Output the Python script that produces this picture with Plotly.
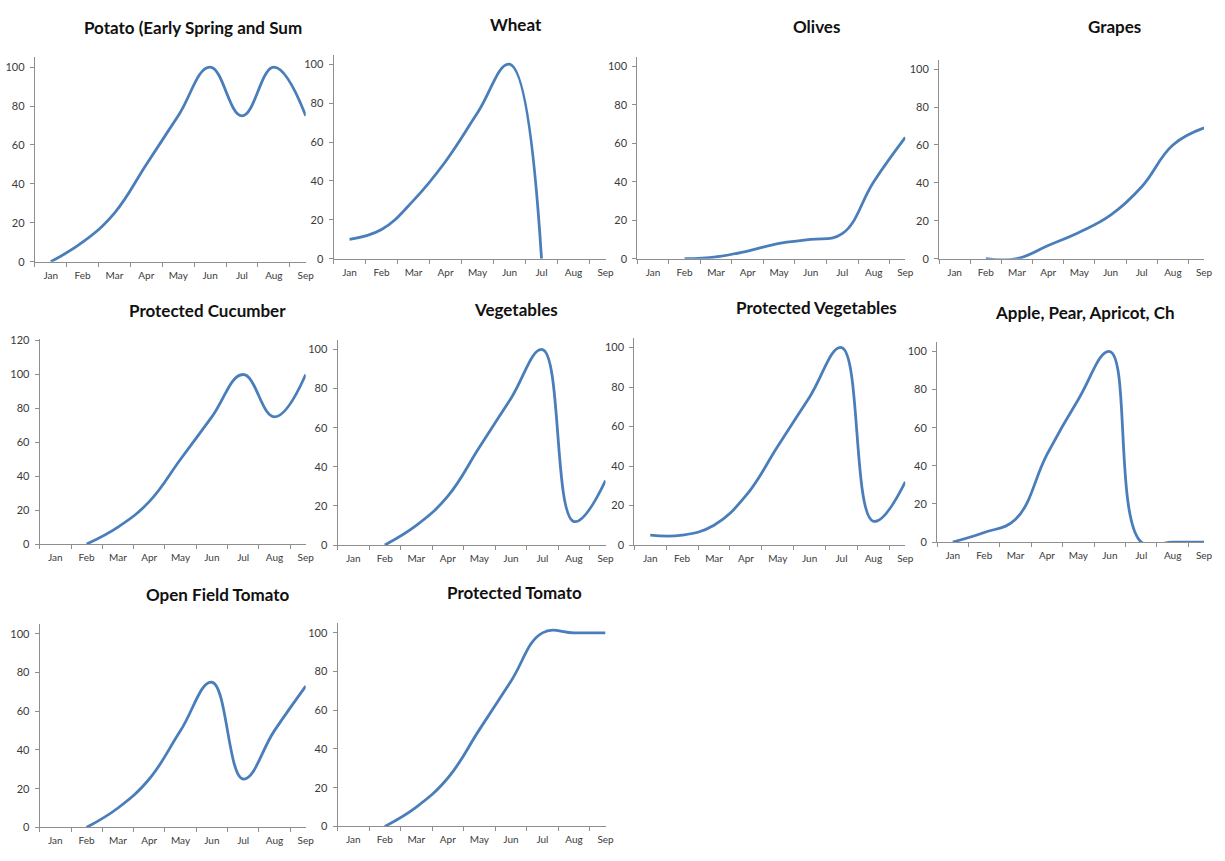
import plotly.graph_objects as go

# ---------------- data ----------------
months = ["Jan", "Feb", "Mar", "Apr", "May", "Jun", "Jul", "Aug", "Sep"]

potato = [0, 10, 25, 50, 75, 100, 75, 100, 75]
wheat = [10, 15, 30, 50, 75, 100, 0, None, None]
olives = [None, 0, 1, 4, 8, 10, 13, 40, 63]
grapes = [None, 0, 0, 7, 14, 23, 38, 60, 69]
protected_cucumber = [None, 0, 10, 25, 50, 75, 100, 75, 100]
vegetables = [None, 0, 10, 25, 50, 75, 100, 12, 33]
protected_vegetables = [5, 5, 10, 25, 50, 75, 100, 12, 32]
apple_pear = [0, 5, 12, 46, 75, 100, 0, 0, 0]
open_field_tomato = [None, 0, 10, 25, 50, 75, 25, 50, 73]
protected_tomato = [None, 0, 10, 25, 50, 75, 100, 100, 100]

titles = [
    "Potato (Early Spring and Sum",
    "Wheat",
    "Olives",
    "Grapes",
    "Protected Cucumber",
    "Vegetables",
    "Protected Vegetables",
    "Apple, Pear, Apricot, Ch",
    "Open Field Tomato",
    "Protected Tomato",
]
series = [potato, wheat, olives, grapes, protected_cucumber, vegetables,
          protected_vegetables, apple_pear, open_field_tomato, protected_tomato]

# ---------------- layout (pixel geometry of the reference) ----------------
W, H = 1225, 861
# (x_left, x_right, y_px_of_0, y_px_of_100, axis_max)
boxes = [
    (35, 308, 260, 63, 105),
    (336, 610, 257, 60, 105),
    (642, 912, 257, 62, 105),
    (946, 1213, 257, 65, 105),
    (40, 308, 546, 374.3, 121),
    (340, 610, 547, 349, 105),
    (639, 912, 547, 347, 105),
    (944, 1213, 544, 351, 105),
    (40, 308, 833, 637, 105),
    (340, 610, 832, 636, 105),
]
# (x, y, xanchor)
title_pos = [
    (83, 23, "left"),
    (520, 20, "center"),
    (823, 22, "center"),
    (1123, 22, "center"),
    (128, 309, "left"),
    (520, 308, "center"),
    (823, 306, "center"),
    (1000, 311, "left"),
    (219, 597, "center"),
    (518, 595, "center"),
]

LINE = "#4A7EBB"
AXIS = "#8E8E8E"
TXT = "#3A3A3A"
FONT = "Lato, 'Open Sans', sans-serif"

fig = go.Figure()
layout = dict(
    autosize=True,
    margin=dict(l=0, r=0, t=0, b=0),
    paper_bgcolor="white", plot_bgcolor="white",
    showlegend=False,
    font=dict(family=FONT, color=TXT),
    annotations=[],
)

for i, (vals, box) in enumerate(zip(series, boxes)):
    n = i + 1
    xl, xr, y0, y100, amax = box
    ytop = y0 - (y0 - y100) * amax / 100.0
    xname = "xaxis" if n == 1 else f"xaxis{n}"
    yname = "yaxis" if n == 1 else f"yaxis{n}"
    fig.add_trace(go.Scatter(
        x=months, y=vals, mode="lines",
        line=dict(color=LINE, width=2.8, shape="spline", smoothing=1.2),
        connectgaps=False,
        xaxis=f"x{n}" if n > 1 else "x", yaxis=f"y{n}" if n > 1 else "y",
        hoverinfo="skip",
    ))
    layout[xname] = dict(
        domain=[xl / W, xr / W],
        anchor=f"y{n}" if n > 1 else "y",
        type="category",
        categoryorder="array", categoryarray=months,
        range=[-0.5, 8.0],
        showline=True, linecolor=AXIS, linewidth=1,
        ticks="outside", tickson="boundaries", ticklen=4, tickcolor=AXIS,
        ticklabelstandoff=4,
        showgrid=False, zeroline=False,
        tickfont=dict(size=10, color=TXT, family=FONT),
        fixedrange=True,
    )
    layout[yname] = dict(
        domain=[1 - y0 / H, 1 - ytop / H],
        anchor=f"x{n}" if n > 1 else "x",
        range=[0, amax],
        tickmode="linear", tick0=0, dtick=20,
        showline=True, linecolor=AXIS, linewidth=1,
        ticks="outside", ticklen=4, tickcolor=AXIS,
        ticklabelstandoff=3,
        showgrid=False, zeroline=False,
        tickfont=dict(size=11, color=TXT, family=FONT),
        fixedrange=True,
    )

for t, (tx, ty, anc) in zip(titles, title_pos):
    layout["annotations"].append(dict(
        text=f"<b>{t}</b>", x=tx / W, y=1 - ty / H,
        xref="paper", yref="paper", xanchor=anc, yanchor="middle",
        showarrow=False, font=dict(size=17, color="#111111", family=FONT),
    ))

fig.update_layout(**layout)
fig.write_html(
    "out.html",
    config={"displayModeBar": False, "responsive": True},
    default_width="100vw",
    default_height="100vh",
    post_script=(
        "document.documentElement.style.overflow='hidden';"
        "document.body.style.margin='0';document.body.style.overflow='hidden';"
        "Plotly.Plots.resize(document.getElementById('{plot_id}'));"
    ),
)
